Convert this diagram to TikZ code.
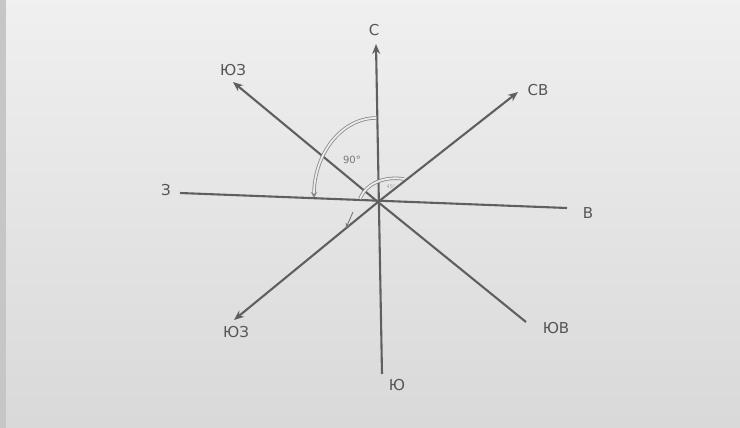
\documentclass[tikz,border=0pt]{standalone}
\usepackage{fontspec}
\setmainfont{DejaVu Sans}
\usetikzlibrary{arrows.meta}
\definecolor{ink}{RGB}{95,95,95}
\begin{document}
\begin{tikzpicture}[x=1pt,y=-1pt,
 axis/.style={draw=ink, line width=2.1pt},
 arr/.style={axis, -{Stealth[length=10pt,width=8pt]}},
 lbl/.style={text=ink!90!black, font=\fontsize{15}{15}\selectfont, inner sep=1pt},
 dbl/.style={draw=ink!75, line width=0.8pt, double=gray!15, double distance=1.8pt}]
\useasboundingbox (0,0) rectangle (740,428);
\shade[top color=gray!12, bottom color=gray!30] (0,0) rectangle (740,428);
\fill[gray!45] (0,0) rectangle (6,428);
% coordinates
\coordinate (O) at (378,202);
\coordinate (Ntip) at (376,44);
\coordinate (Send) at (382,374);
\coordinate (Wend) at (180,193);
\coordinate (Eend) at (567,208);
\coordinate (NWtip) at (233,82);
\coordinate (NEtip) at (518,92);
\coordinate (SWtip) at (234,320);
\coordinate (SEend) at (526,322);
% lines
\draw[arr] (Send) -- (Ntip);
\draw[axis] (Wend) -- (Eend);
\draw[arr] (O) -- (NWtip);
\draw[arr] (O) -- (NEtip);
\draw[arr] (O) -- (SWtip);
\draw[axis] (O) -- (SEend);
% labels
\node[lbl] (lN) at (374,30) {С};
\node[lbl] (lNE) at (538,90) {СВ};
\node[lbl] (lE) at (588,213) {В};
\node[lbl] (lSE) at (556,328) {ЮВ};
\node[lbl] (lS) at (397,385) {Ю};
\node[lbl] (lSW) at (236,332) {ЮЗ};
\node[lbl] (lW) at (166,190) {З};
\node[lbl] (lNW) at (233,70) {ЮЗ};
% angle marks
\draw[dbl, -{Stealth[length=6pt,width=6pt]}] (376,118) arc[start angle=-90, end angle=-180, x radius=62, y radius=80];
\node[text=ink!85, font=\fontsize{10}{10}\selectfont] (ang) at (352,160) {90°};
\draw[dbl] (360,199) .. controls (366,183) and (385,176) .. (404,179);
\node[text=ink!60, font=\fontsize{5}{5}\selectfont] (ang2) at (391,187) {45°};
\coordinate (sa) at (353,212);
\coordinate (sb) at (346,228);
\draw[draw=ink!85, line width=0.9pt, -{Stealth[length=5pt,width=5pt]}] (sa) -- (sb);
\end{tikzpicture}
\end{document}
